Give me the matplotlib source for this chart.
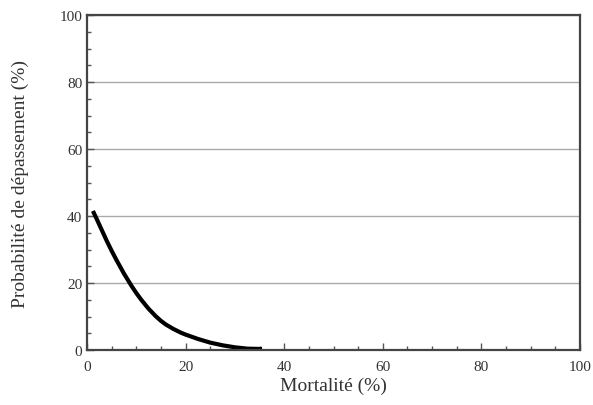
import numpy as np
import matplotlib
matplotlib.use("Agg")
import matplotlib.pyplot as plt
from matplotlib.ticker import MultipleLocator

# Courbe de probabilité de dépassement
mortalite = [1.2, 2, 3, 4, 5, 6, 7.5, 9, 10, 11, 12.5, 14, 15, 16, 17.5,
             19, 20, 22.5, 25, 27.5, 30, 32.5, 35.5]
probabilite = [41.5, 39.0, 35.8, 32.6, 29.6, 26.8, 22.8, 19.2, 17.0, 15.0, 12.3, 10.0, 8.7,
               7.6, 6.3, 5.2, 4.6, 3.3, 2.2, 1.4, 0.8, 0.4, 0.3]

plt.rcParams['font.family'] = ['Liberation Serif', 'DejaVu Serif']

fig = plt.figure(figsize=(5.93, 4.06), dpi=100)
ax = fig.add_axes([87 / 593, 55 / 406, 493 / 593, 335 / 406])

ax.plot(mortalite, probabilite, color='black', linewidth=3,
        solid_capstyle='butt', solid_joinstyle='round')

ax.set_xlim(0, 100)
ax.set_ylim(0, 100)
ax.xaxis.set_major_locator(MultipleLocator(20))
ax.xaxis.set_minor_locator(MultipleLocator(5))
ax.yaxis.set_major_locator(MultipleLocator(20))
ax.yaxis.set_minor_locator(MultipleLocator(5))
ax.tick_params(which='both', direction='in', top=False, right=False,
               color='#555555', labelsize=11, labelcolor='#333333')
ax.tick_params(which='major', length=5, width=1)
ax.tick_params(which='minor', length=3, width=1)
ax.tick_params(axis='x', pad=7)

ax.grid(axis='y', which='major', color='#aaaaaa', linewidth=1)
ax.set_axisbelow(True)
for s in ax.spines.values():
    s.set_linewidth(1.6)
    s.set_color('#444444')

ax.set_xlabel('Mortalité (%)', fontsize=14, color='#333333', labelpad=3)
ax.set_ylabel('Probabilité de dépassement (%)', fontsize=14, color='#333333', labelpad=22)

fig.savefig('out.png', dpi=100)
